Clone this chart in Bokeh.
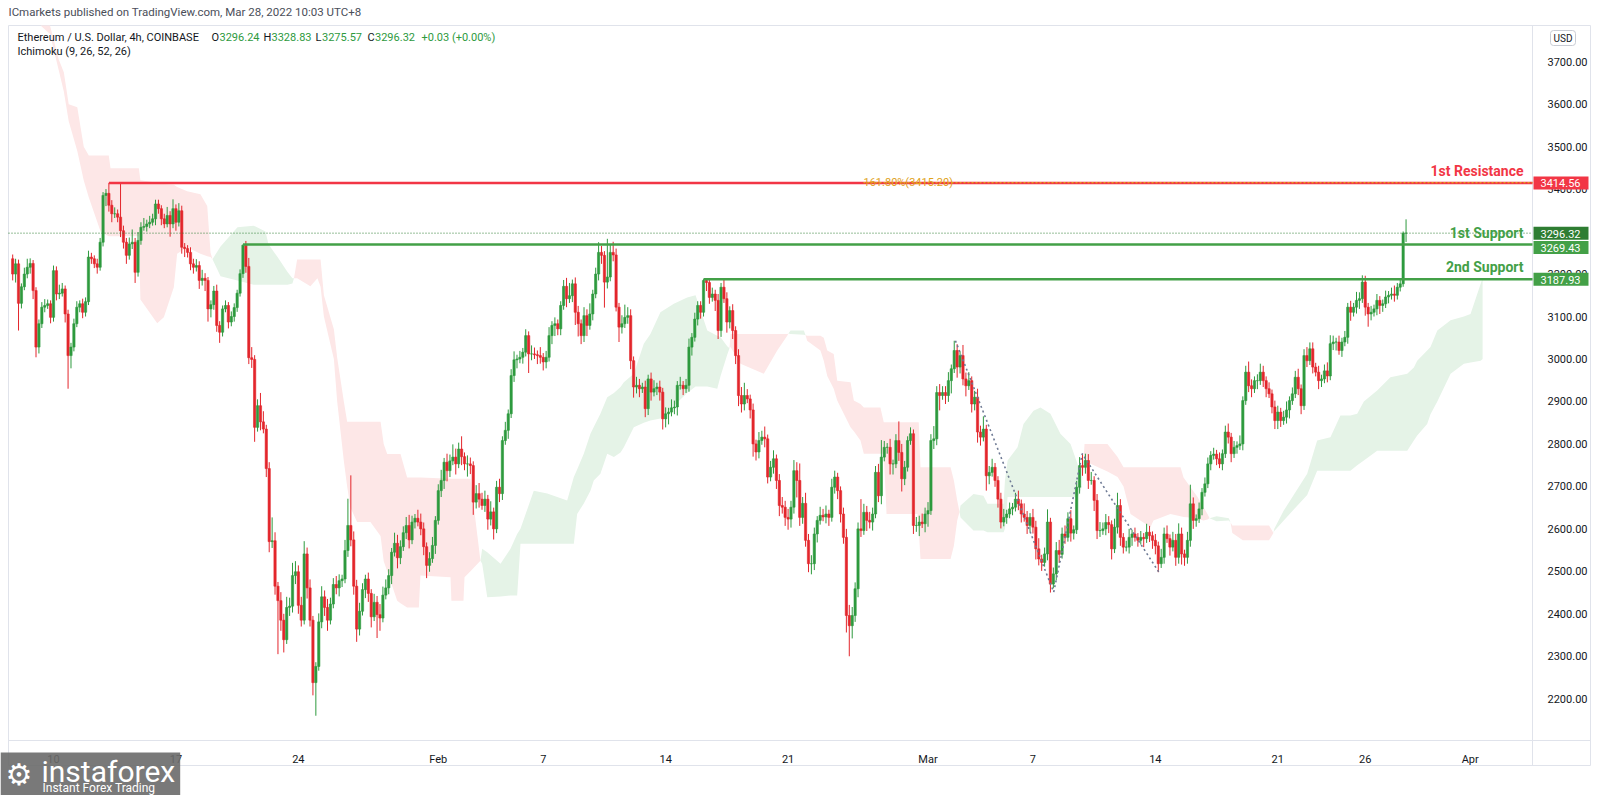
import numpy as np
import pandas as pd
from bokeh.plotting import figure
from bokeh.models import (ColumnDataSource, FixedTicker, Label, LinearAxis, Range1d,
                          PrintfTickFormatter)
from bokeh.embed import file_html
from bokeh.resources import INLINE

# ---------------- data ----------------
first_candle = "2022-01-07 16:00"
first_open = 3236.0
closes = [
    3200, 3224,
    3131, 3170, 3200, 3216, 3225, 3161,
    3028, 3083, 3122, 3126, 3130, 3098,
    3208, 3153, 3155, 3165, 3106, 3008,
    3028, 3083, 3122, 3130, 3110, 3135,
    3240, 3236, 3224, 3216, 3275, 3385,
    3390, 3362, 3342, 3342, 3334, 3302,
    3275, 3244, 3271, 3275, 3204, 3279,
    3310, 3312, 3318, 3322, 3330, 3365,
    3354, 3330, 3318, 3338, 3318, 3354,
    3322, 3349, 3263, 3260, 3251, 3224,
    3216, 3220, 3185, 3190, 3185, 3118,
    3128, 3160, 3079, 3063, 3118, 3126,
    3087, 3100, 3121, 3155, 3201, 3268,
    3218, 3003, 2999, 2839, 2890, 2852,
    2835, 2742, 2570, 2572, 2465, 2431,
    2385, 2339, 2415, 2418, 2490, 2499,
    2420, 2385, 2541, 2461, 2385, 2238,
    2276, 2381, 2440, 2415, 2385, 2423,
    2469, 2461, 2478, 2482, 2549, 2608,
    2574, 2465, 2364, 2406, 2457, 2482,
    2448, 2393, 2427, 2398, 2390, 2444,
    2461, 2490, 2545, 2566, 2532, 2558,
    2591, 2608, 2574, 2616, 2625, 2616,
    2600, 2558, 2514, 2530, 2561, 2620,
    2690, 2714, 2757, 2737, 2760, 2769,
    2753, 2788, 2770, 2753, 2753, 2749,
    2663, 2683, 2670, 2655, 2670, 2623,
    2640, 2600, 2698, 2683, 2808, 2832,
    2871, 2961, 2998, 3000, 3004, 3016,
    3055, 3012, 3012, 3010, 3008, 3004,
    2993, 3004, 3055, 3079, 3083, 3071,
    3126, 3171, 3142, 3149, 3177, 3110,
    3083, 3055, 3102, 3079, 3106, 3153,
    3200, 3251, 3244, 3181, 3193, 3251,
    3245, 3122, 3075, 3083, 3098, 3102,
    2996, 2934, 2938, 2930, 2934, 2883,
    2953, 2922, 2930, 2934, 2922, 2859,
    2871, 2875, 2885, 2887, 2938, 2938,
    2930, 2938, 3028, 3051, 3094, 3126,
    3110, 3185, 3180, 3145, 3153, 3138,
    3067, 3169, 3142, 3087, 3114, 3067,
    3008, 2914, 2894, 2914, 2906, 2880,
    2800, 2781, 2808, 2816, 2812, 2722,
    2745, 2765, 2714, 2655, 2651, 2627,
    2623, 2651, 2737, 2714, 2627, 2660,
    2573, 2518, 2518, 2588, 2620, 2632,
    2628, 2635, 2627, 2698, 2722, 2690,
    2635, 2580, 2396, 2372, 2396, 2459,
    2600, 2596, 2639, 2620, 2616, 2635,
    2733, 2678, 2769, 2792, 2792, 2753,
    2753, 2808, 2780, 2718, 2745, 2808,
    2824, 2608, 2608, 2616, 2612, 2635,
    2643, 2808, 2812, 2921, 2914, 2921,
    2914, 2949, 2977, 3020, 2981, 3008,
    2953, 2937, 2949, 2894, 2910, 2828,
    2816, 2835, 2725, 2733, 2745, 2714,
    2670, 2616, 2627, 2635, 2647, 2651,
    2670, 2659, 2635, 2627, 2608, 2627,
    2604, 2553, 2529, 2521, 2541, 2616,
    2470, 2494, 2549, 2540, 2588, 2580,
    2624, 2590, 2598, 2698, 2749, 2745,
    2761, 2714, 2714, 2667, 2596, 2596,
    2600, 2615, 2610, 2553, 2604, 2655,
    2580, 2557, 2557, 2580, 2588, 2580,
    2573, 2580, 2577, 2592, 2584, 2573,
    2560, 2518, 2533, 2588, 2577, 2557,
    2573, 2533, 2588, 2541, 2533, 2573,
    2659, 2620, 2624, 2647, 2686, 2706,
    2753, 2773, 2776, 2765, 2753, 2777,
    2828, 2816, 2777, 2792, 2796, 2800,
    2902, 2969, 2937, 2930, 2949, 2949,
    2969, 2949, 2930, 2918, 2887, 2855,
    2875, 2855, 2863, 2880, 2902, 2918,
    2957, 2930, 2890, 3008, 2996, 3024,
    2981, 2969, 2949, 2953, 2972, 2960,
    3036, 3040, 3040, 3020, 3040, 3051,
    3122, 3110, 3122, 3138, 3142, 3181,
    3122, 3106, 3110, 3118, 3138, 3126,
    3130, 3146, 3150, 3153, 3150, 3169,
    3177, 3296.24, 3296.32,
]
wick_up = [
    10, 12,
    10, 8, 15, 20, 12, 8,
    8, 10, 12, 15, 10, 8,
    12, 10, 20, 14, 8, 10,
    10, 12, 14, 8, 12, 10,
    15, 10, 8, 12, 10, 8,
    10, 24.56, 12, 15, 10, 78,
    12, 10, 15, 30, 10, 20,
    12, 20, 10, 15, 12, 10,
    10, 8, 12, 20, 10, 22,
    10, 18, 12, 10, 8, 12,
    12, 15, 10, 20, 12, 8,
    10, 12, 15, 10, 8, 12,
    8, 12, 10, 8, 10, 1.43,
    10, 20, 25, 10, 15, 30,
    25, 10, 15, 55, 20, 10,
    20, 15, 25, 20, 30, 25,
    15, 20, 30, 15, 20, 10,
    10, 20, 25, 15, 20, 15,
    15, 20, 15, 10, 25, 63,
    118, 20, 15, 20, 15, 10,
    15, 10, 20, 15, 25, 20,
    20, 15, 10, 25, 20, 15,
    15, 20, 25, 15, 10, 20,
    20, 15, 10, 15, 20, 10,
    15, 25, 10, 20, 15, 30,
    20, 15, 30, 10, 20, 15,
    10, 20, 25, 15, 20, 10,
    25, 10, 15, 20, 10, 20,
    10, 15, 20, 10, 15, 10,
    15, 10, 20, 15, 10, 20,
    10, 15, 20, 10, 15, 10,
    10, 15, 20, 30, 10, 15,
    15, 10, 20, 15, 25, 10,
    15, 24, 15, 10, 90, 20,
    25, 15, 10, 20, 30, 20,
    15, 10, 20, 15, 10, 15,
    10, 15, 20, 10, 15, 10,
    15, 10, 20, 15, 10, 20,
    10, 15, 20, 10, 15, 10,
    10, 2.93, 5, 10, 15, 10,
    15, 10, 20, 15, 10, 15,
    10, 15, 20, 30, 15, 10,
    15, 10, 20, 15, 25, 10,
    15, 20, 10, 15, 20, 15,
    20, 15, 25, 20, 40, 15,
    25, 15, 20, 15, 10, 20,
    15, 20, 10, 20, 15, 10,
    10, 15, 20, 25, 20, 15,
    15, 70, 20, 15, 20, 15,
    15, 20, 40, 15, 10, 20,
    10, 15, 45, 20, 15, 10,
    15, 10, 20, 15, 20, 15,
    20, 15, 30, 15, 20, 15,
    15, 20, 10, 23, 15, 10,
    25, 15, 20, 10, 15, 20,
    15, 30, 10, 15, 20, 10,
    10, 15, 20, 10, 15, 10,
    15, 20, 10, 25, 15, 10,
    20, 15, 25, 10, 15, 30,
    10, 15, 20, 25, 15, 20,
    15, 20, 10, 15, 20, 28,
    16, 15, 20, 10, 15, 20,
    15, 20, 15, 10, 20, 30,
    15, 10, 15, 20, 10, 15,
    10, 15, 10, 20, 15, 10,
    15, 10, 20, 15, 20, 10,
    20, 15, 25, 15, 10, 20,
    45, 15, 10, 15, 10, 15,
    15, 10, 15, 10, 15, 10,
    15, 20, 10, 15, 10, 20,
    10, 15, 25, 15, 10, 15,
    20, 15, 10, 15, 10, 15,
    15, 10, 15, 20, 10, 15,
    15, 20, 10, 15, 20, 15,
    15, 10, 15, 10, 15, 20,
    20, 15, 10, 15, 10, 15,
    10, 15, 10, 20, 15, 16,
    15, 10, 15, 10, 15, 10,
    10, 15, 10, 15, 20, 10,
    10, 4, 32.51,
]
wick_dn = [
    15, 20,
    64, 12, 8, 10, 15, 20,
    24, 15, 10, 12, 8, 14,
    10, 15, 12, 8, 20, 78,
    30, 10, 8, 12, 14, 10,
    8, 12, 10, 15, 8, 10,
    25, 15, 20, 10, 12, 15,
    15, 20, 10, 12, 25, 10,
    10, 8, 12, 10, 8, 15,
    12, 15, 10, 8, 30, 10,
    20, 10, 15, 20, 12, 15,
    15, 10, 20, 12, 25, 30,
    20, 12, 15, 25, 10, 8,
    15, 10, 12, 10, 8, 10,
    15, 15, 20, 34, 10, 20,
    10, 20, 25, 15, 20, 126,
    25, 30, 10, 20, 15, 20,
    20, 15, 10, 25, 15, 30,
    78, 10, 15, 20, 25, 10,
    10, 15, 20, 15, 10, 15,
    15, 20, 30, 15, 10, 20,
    20, 25, 10, 55, 30, 10,
    10, 15, 20, 10, 25, 15,
    10, 15, 20, 10, 15, 10,
    15, 20, 30, 15, 10, 20,
    10, 15, 20, 25, 15, 10,
    25, 10, 20, 15, 30, 20,
    30, 15, 20, 10, 15, 25,
    15, 25, 10, 20, 15, 10,
    20, 10, 15, 20, 10, 15,
    10, 45, 15, 10, 20, 15,
    20, 15, 10, 20, 25, 15,
    15, 10, 20, 10, 15, 30,
    30, 20, 15, 25, 10, 15,
    10, 15, 20, 60, 15, 10,
    15, 10, 35, 15, 10, 15,
    20, 25, 15, 20, 10, 20,
    15, 20, 10, 15, 20, 25,
    20, 25, 10, 15, 20, 10,
    15, 10, 15, 20, 10, 15,
    15, 10, 20, 15, 10, 25,
    20, 15, 10, 25, 15, 20,
    20, 25, 20, 15, 10, 20,
    30, 20, 15, 10, 20, 15,
    10, 15, 20, 25, 15, 20,
    25, 20, 15, 40, 20, 15,
    15, 20, 25, 15, 20, 10,
    10, 15, 20, 10, 15, 20,
    20, 15, 40, 72, 30, 15,
    20, 15, 10, 25, 15, 20,
    10, 15, 20, 10, 15, 25,
    25, 10, 20, 30, 15, 10,
    10, 20, 15, 25, 10, 20,
    30, 10, 20, 15, 35, 10,
    20, 15, 30, 10, 25, 15,
    15, 25, 10, 20, 15, 25,
    20, 10, 35, 20, 10, 15,
    20, 15, 10, 15, 10, 15,
    10, 15, 20, 10, 20, 15,
    15, 25, 15, 20, 10, 15,
    20, 10, 15, 20, 10, 15,
    10, 20, 15, 10, 15, 20,
    15, 20, 10, 25, 20, 15,
    10, 15, 20, 25, 10, 15,
    20, 15, 10, 15, 20, 10,
    15, 10, 20, 10, 15, 20,
    20, 20, 10, 15, 10, 20,
    10, 20, 15, 25, 20, 15,
    15, 20, 15, 10, 15, 10,
    10, 15, 10, 15, 10, 15,
    10, 15, 20, 10, 15, 10,
    15, 10, 15, 20, 10, 20,
    10, 15, 20, 10, 15, 20,
    20, 15, 10, 15, 20, 10,
    10, 15, 20, 10, 15, 10,
    15, 10, 20, 15, 10, 15,
    10, 15, 20, 10, 15, 10,
    15, 20, 10, 15, 20, 10,
    20, 30, 15, 10, 15, 20,
    15, 10, 15, 10, 15, 10,
    10, 7, 20.67,
]

# Ichimoku cloud edges (days since 2022-01-01, Senkou span A, Senkou span B)
cloud_day = [6.48, 8.26, 8.80, 9.30, 9.59, 9.87, 10.36, 10.73, 11.02, 11.69, 12.16, 12.26, 13.88, 13.97,
             14.93, 15.31, 15.88, 16.07, 16.64, 17.40, 17.79, 17.98, 18.09, 18.55, 19.52, 20.44, 21.12,
             21.29, 21.81, 22.38, 22.66, 22.75, 22.93, 23.69, 24.09, 24.27, 24.46, 25.03, 25.22, 25.60,
             25.79, 25.98, 26.36, 27.12, 27.70, 27.88, 28.08, 28.65, 28.84, 29.22, 29.89, 29.98, 31.70,
             31.75, 32.44, 32.50, 32.84, 33.41, 33.51, 33.80, 34.56, 35.13, 35.51, 35.70, 36.46, 37.23,
             38.37, 38.75, 38.94, 39.32, 39.70, 39.89, 40.27, 40.66, 41.04, 41.42, 41.61, 42.18, 42.75,
             43.13, 43.70, 44.47, 45.23, 45.71, 46.38, 46.95, 47.14, 47.52, 47.65, 47.71, 48.28, 49.61,
             50.38, 50.95, 51.02, 51.14, 51.90, 52.00, 52.09, 52.85, 53.04, 53.24, 53.61, 53.81, 54.57,
             54.76, 55.14, 55.33, 56.28, 56.47, 56.63, 58.40, 58.47, 58.57, 60.29, 60.48, 60.67, 60.80,
             60.86, 61.60, 62.17, 62.40, 63.32, 63.40, 63.55, 64.12, 64.46, 65.03, 65.43, 66.00, 66.57,
             67.15, 67.55, 67.72, 67.80, 67.95, 69.26, 69.84, 70.18, 70.58, 71.72, 71.89, 72.86, 73.44,
             73.61, 74.01, 74.41, 74.75, 74.98, 75.10, 75.50, 76.20, 76.30, 76.40, 77.00, 78.50, 78.75,
             78.80, 79.34, 80.68, 81.25, 82.01, 82.58, 83.15, 83.54, 83.92, 84.68, 85.44, 86.40, 86.78,
             86.97, 87.54, 87.73, 88.12, 88.88, 89.64, 90.02, 90.60, 90.71]
span_a = [3890, 3790, 3765, 3680, 3630, 3560, 3490, 3420, 3380, 3300, 3289, 3289, 3289, 3140,
          3084, 3098, 3169, 3248, 3263, 3248, 3242, 3240, 3235, 3265, 3310, 3314, 3300,
          3270, 3240, 3205, 3190, 3190, 3190, 3171, 3190, 3170, 3100, 3000, 2900, 2760,
          2700, 2650, 2616, 2616, 2583, 2524, 2500, 2431, 2425, 2415, 2415, 2490, 2486,
          2431, 2431, 2486, 2500, 2525, 2553, 2545, 2518, 2553, 2588, 2600, 2690, 2683,
          2667, 2722, 2740, 2777, 2824, 2840, 2871, 2910, 2920, 2934, 2945, 2965, 3036,
          3059, 3110, 3130, 3145, 3150, 3067, 3055, 3051, 3030, 3025, 3028, 2989, 2965,
          3020, 3055, 3060, 3067, 3067, 3056, 3043, 3020, 2996, 2960, 2930, 2902, 2839,
          2830, 2808, 2777, 2777, 2777, 2635, 2635, 2600, 2529, 2529, 2560, 2620, 2640,
          2655, 2682, 2678, 2659, 2659, 2714, 2761, 2792, 2847, 2878, 2886, 2871, 2824,
          2800, 2753, 2700, 2700, 2760, 2735, 2722, 2700, 2635, 2604, 2620, 2635, 2630,
          2628, 2627, 2624, 2620, 2622, 2625, 2630, 2625, 2615, 2590, 2573, 2573, 2590,
          2600, 2643, 2730, 2808, 2816, 2867, 2867, 2871, 2900, 2926, 2957, 2965, 2980,
          2996, 3020, 3028, 3067, 3091, 3100, 3106, 3177, 3190]
span_b = [3900, 3800, 3790, 3705, 3675, 3600, 3593, 3500, 3479, 3479, 3479, 3449, 3449, 3421,
          3415, 3412, 3410, 3405, 3395, 3388, 3360, 3250, 3235, 3195, 3185, 3175, 3175,
          3175, 3175, 3175, 3178, 3190, 3234, 3234, 3234, 3234, 3150, 3070, 3003, 2900,
          2852, 2852, 2852, 2852, 2852, 2800, 2776, 2776, 2776, 2721, 2721, 2721, 2718,
          2718, 2718, 2718, 2718, 2525, 2518, 2439, 2441, 2443, 2443, 2565, 2565, 2565,
          2565, 2565, 2635, 2660, 2690, 2714, 2730, 2777, 2769, 2780, 2792, 2839, 2850,
          2855, 2860, 2890, 2920, 2935, 2935, 2930, 2960, 3010, 3025, 3059, 3059, 3059,
          3059, 3059, 3060, 3059, 3057, 3056, 3055, 3055, 3050, 3020, 3012, 2949, 2945,
          2902, 2894, 2886, 2886, 2851, 2851, 2851, 2851, 2745, 2745, 2714, 2667, 2640,
          2627, 2596, 2596, 2592, 2592, 2600, 2675, 2675, 2675, 2675, 2675, 2675, 2675,
          2675, 2675, 2690, 2700, 2800, 2800, 2769, 2745, 2745, 2745, 2745, 2745, 2745,
          2721, 2698, 2675, 2651, 2635, 2625, 2618, 2620, 2615, 2608, 2608, 2608, 2590,
          2595, 2620, 2680, 2737, 2737, 2737, 2737, 2750, 2761, 2784, 2784, 2784, 2808,
          2820, 2847, 2870, 2900, 2965, 2989, 2992, 2996, 3000]

level_names = ["1st Resistance", "1st Support", "2nd Support"]
level_prices = [3414.56, 3269.43, 3187.93]
level_start = ["2022-01-13 04:00", "2022-01-20 20:00", "2022-02-16 04:00"]
last_price = 3296.32
last_change = "+0.03 (+0.00%)"
fib_text = "161.80%(3415.20)"
fib_price = 3415.20
fib_start = "2022-02-25 07:30"
pattern_time = ["2022-03-02 13:40", "2022-03-08 04:30", "2022-03-09 19:40", "2022-03-14 04:50"]
pattern_price = [3043, 2451, 2777, 2498]
tick_dates = ["2022-01-10", "2022-01-17", "2022-01-24", "2022-02-01", "2022-02-07", "2022-02-14",
              "2022-02-21", "2022-03-01", "2022-03-07", "2022-03-14", "2022-03-21", "2022-03-26",
              "2022-04-01"]
tick_labels = ["10", "17", "24", "Feb", "7", "14", "21", "Mar", "7", "14", "21", "26", "Apr"]
price_ticks = list(range(2200, 3800, 100))

# ---------------- styling / layout ----------------
FONT = "Roboto"
GREEN = "#2E9A3E"
RED = "#E3262C"
LVL_RED = "#F23645"
LVL_GREEN = "#43A047"
CUR_GREEN = "#2E7D32"
FIB = "#E0A21B"
TXT = "#131722"
BORDER = "#E0E3EB"

W, H = 1600, 795
PX_PER_DAY = 17.49          # horizontal scale of the reference
PX_PER_USD = 0.4247         # vertical scale of the reference
PANEL_L, PANEL_T, PANEL_R, PANEL_B = 8, 25, 1532, 740    # price pane in page pixels
OUTER_R, OUTER_B = 1590, 765

EPOCH = pd.Timestamp("2022-01-01")


def to_day(ts):
    return (pd.Timestamp(ts) - EPOCH) / pd.Timedelta(days=1)


X_AT_53 = to_day("2022-01-10")      # the "10" tick sits at page x = 53


def px2x(px):
    return X_AT_53 + (px - 53) / PX_PER_DAY


def py2y(py):
    return 3700 - (py - 61.2) / PX_PER_USD   # 3700.00 sits at page y = 61.2


p = figure(width=W, height=H, x_range=Range1d(px2x(0), px2x(W)), y_range=Range1d(py2y(H), py2y(0)),
           x_axis_location=None, y_axis_location=None, output_backend="svg",
           toolbar_location=None, tools="", min_border=0, outline_line_color=None,
           background_fill_color="white", border_fill_color="white")
p.xgrid.grid_line_color = None
p.ygrid.grid_line_color = None

# axes fixed on the pane edges
tick_x = [int(round(to_day(d))) for d in tick_dates]
xax = LinearAxis(fixed_location=py2y(PANEL_B), ticker=FixedTicker(ticks=tick_x),
                 major_label_overrides={tx: lab for tx, lab in zip(tick_x, tick_labels)})
yax = LinearAxis(fixed_location=px2x(PANEL_R), ticker=FixedTicker(ticks=price_ticks),
                 formatter=PrintfTickFormatter(format="%.2f"))
for ax in (xax, yax):
    ax.axis_line_color = None
    ax.major_tick_line_color = None
    ax.minor_tick_line_color = None
    ax.major_label_text_font = FONT
    ax.major_label_text_font_size = "11px"
    ax.major_label_text_color = TXT
xax.major_label_standoff = 6
yax.major_label_standoff = 9
p.add_layout(xax, "below")
p.add_layout(yax, "right")

# pane borders
bx0 = [px2x(PANEL_L), px2x(PANEL_L), px2x(PANEL_L), px2x(PANEL_L), px2x(PANEL_R), px2x(OUTER_R)]
bx1 = [px2x(OUTER_R), px2x(OUTER_R), px2x(OUTER_R), px2x(PANEL_L), px2x(PANEL_R), px2x(OUTER_R)]
by0 = [py2y(PANEL_T), py2y(PANEL_B), py2y(OUTER_B), py2y(PANEL_T), py2y(PANEL_T), py2y(PANEL_T)]
by1 = [py2y(PANEL_T), py2y(PANEL_B), py2y(OUTER_B), py2y(OUTER_B), py2y(OUTER_B), py2y(OUTER_B)]
p.segment(x0=bx0, y0=by0, x1=bx1, y1=by1, line_color=BORDER, line_width=1)

# ---------------- Ichimoku cloud ----------------
cd = np.array(cloud_day, dtype=float)
sa = np.array(span_a, dtype=float)
sb = np.array(span_b, dtype=float)
lo = np.minimum(sa, sb)
hi = np.maximum(sa, sb)
top_clip = py2y(PANEL_T)
p.varea(x=cd, y1=np.minimum(lo, top_clip), y2=np.minimum(np.where(sa >= sb, hi, lo), top_clip),
        fill_color="#E5F3E7")
p.varea(x=cd, y1=np.minimum(lo, top_clip), y2=np.minimum(np.where(sa < sb, hi, lo), top_clip),
        fill_color="#FDE7E7")

# ---------------- candles ----------------
c = np.array(closes, dtype=float)
o = np.concatenate([[first_open], c[:-1]])
h = np.maximum(o, c) + np.array(wick_up, dtype=float)
l = np.minimum(o, c) - np.array(wick_dn, dtype=float)
t = pd.date_range(first_candle, periods=len(c), freq="4h")
x = ((t - EPOCH) / pd.Timedelta(days=1)).to_numpy(dtype=float)
col = np.where(c >= o, GREEN, RED)
src = ColumnDataSource(dict(x=x, h=h, l=l, top=np.maximum(o, c), bot=np.minimum(o, c), col=col))
p.segment(x0="x", y0="h", x1="x", y1="l", color="col", line_width=1, source=src)
p.vbar(x="x", width=0.13, top="top", bottom="bot", fill_color="col", line_color="col",
       line_width=0.6, source=src)

# ---------------- drawings ----------------
p.segment(x0=[px2x(PANEL_L)], y0=[last_price], x1=[px2x(PANEL_R)], y1=[last_price],
          line_color=CUR_GREEN, line_dash="1 2", line_width=1)
lvl_cols = [LVL_RED, LVL_GREEN, LVL_GREEN]
p.segment(x0=[to_day(s) for s in level_start], y0=level_prices,
          x1=[px2x(PANEL_R)] * len(level_prices), y1=level_prices,
          line_color=lvl_cols, line_width=2.6)
p.segment(x0=[to_day(fib_start)], y0=[fib_price], x1=[px2x(PANEL_R)], y1=[fib_price],
          line_color=FIB, line_dash="2 2", line_width=1.2)
p.line(x=[to_day(tm) for tm in pattern_time], y=pattern_price, line_color="#6E7A94",
       line_dash="2 3", line_width=1.6)

p.add_layout(Label(x=to_day(fib_start), y=fib_price, text=fib_text, text_color=FIB,
                   text_font=FONT, text_font_size="11px", text_baseline="middle"))

# level names (right-aligned above their lines)
for name, price, lc in zip(level_names, level_prices, lvl_cols):
    p.add_layout(Label(x=PANEL_R - 9, x_units="screen", y=price, y_offset=12, text=name,
                       text_color=lc, text_font=FONT, text_font_size="14px",
                       text_font_style="bold", text_align="right", text_baseline="middle"))

# price boxes on the axis
box_items = [(level_prices[0], LVL_RED, 0), (last_price, CUR_GREEN, 0),
             (level_prices[1], LVL_GREEN, -3), (level_prices[2], LVL_GREEN, 0)]
for price, bc, off in box_items:
    p.add_layout(Label(x=PANEL_R + 1, x_units="screen", y=price, y_offset=off, text=f"{price:.2f}",
                       text_color="white", text_font=FONT, text_font_size="11px",
                       text_baseline="middle", background_fill_color=bc,
                       padding=dict(left=7, right=8, top=3, bottom=2)))

# USD button
p.add_layout(Label(x=1550, x_units="screen", y=H - 37.5, y_units="screen",
                   text="USD", text_color=TXT, text_font=FONT, text_font_size="10px",
                   text_baseline="middle", background_fill_color="white",
                   border_line_color="#C9CCD4", border_radius=3,
                   padding=dict(left=3, right=3, top=2, bottom=2)))

# header and legend
p.add_layout(Label(x=8, x_units="screen", y=H - 11.5, y_units="screen",
                   text="ICmarkets published on TradingView.com, Mar 28, 2022 10:03 UTC+8",
                   text_color="#4A4E59", text_font=FONT, text_font_size="11.5px",
                   text_baseline="middle"))
leg_y1 = H - 36.5
leg_y2 = H - 51
p.add_layout(Label(x=17, x_units="screen", y=leg_y1, y_units="screen",
                   text="Ethereum / U.S. Dollar, 4h, COINBASE", text_color=TXT,
                   text_font=FONT, text_font_size="11px", text_baseline="middle"))
ohlc = [("O", o[-1], 8), ("H", h[-1], 8), ("L", l[-1], 6.5), ("C", c[-1], 7.5)]
xpos = 211
for letter, val, gap in ohlc:
    p.add_layout(Label(x=xpos, x_units="screen", y=leg_y1, y_units="screen", text=letter,
                       text_color=TXT, text_font=FONT, text_font_size="11px", text_baseline="middle"))
    p.add_layout(Label(x=xpos + gap, x_units="screen", y=leg_y1, y_units="screen", text=f"{val:.2f}",
                       text_color=GREEN, text_font=FONT, text_font_size="11px", text_baseline="middle"))
    xpos += 52
p.add_layout(Label(x=xpos + 2, x_units="screen", y=leg_y1, y_units="screen", text=last_change,
                   text_color=GREEN, text_font=FONT, text_font_size="11px", text_baseline="middle"))
p.add_layout(Label(x=17, x_units="screen", y=leg_y2, y_units="screen",
                   text="Ichimoku (9, 26, 52, 26)", text_color=TXT,
                   text_font=FONT, text_font_size="11px", text_baseline="middle"))

# watermark logo (bottom-left), slightly translucent like the reference
p.add_layout(Label(x=0, x_units="screen", y=H - 752, y_units="screen", text="instaforex",
                   text_color="white", text_font=FONT, text_font_size="30px",
                   text_baseline="top", background_fill_color="#6A6A6A", background_fill_alpha=0.9,
                   padding=dict(left=41, right=5, top=1, bottom=14)))
p.add_layout(Label(x=5, x_units="screen", y=H - 756, y_units="screen", text="\u2699",
                   text_color="white", text_font="DejaVu Sans", text_font_size="30px",
                   text_baseline="top"))
p.add_layout(Label(x=42, x_units="screen", y=H - 780, y_units="screen", text="Instant Forex Trading",
                   text_color="white", text_font=FONT, text_font_size="12px", text_baseline="top"))

open("out.html", "w").write(file_html(p, INLINE))
